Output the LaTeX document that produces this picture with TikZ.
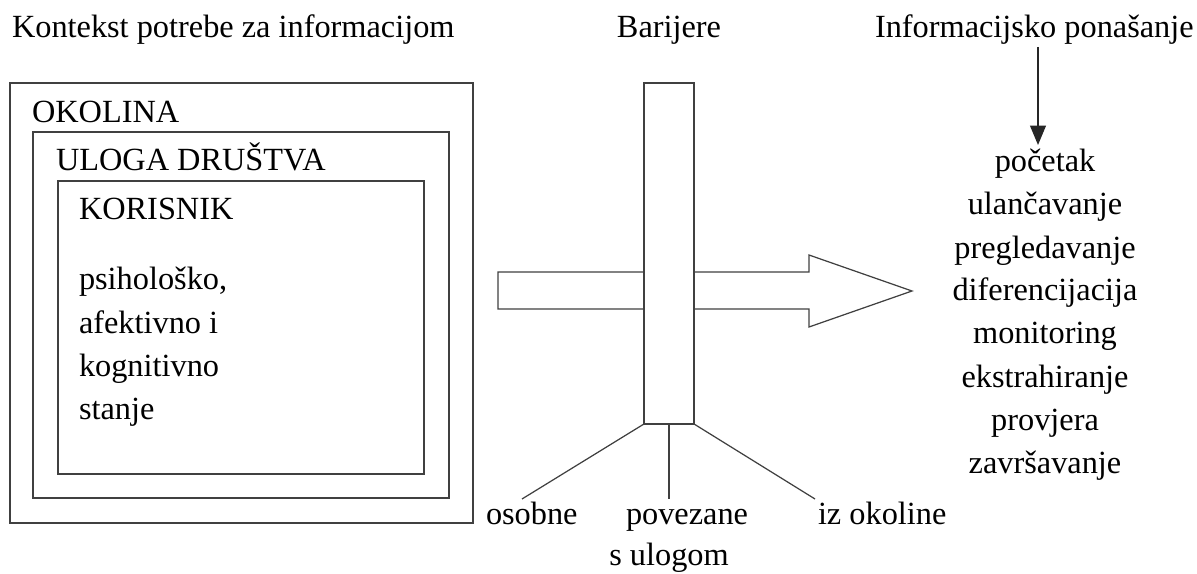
\documentclass[tikz,border=0pt]{standalone}
\usepackage{fontspec}
\setmainfont{Liberation Serif}
\usetikzlibrary{arrows.meta}
\begin{document}
\begin{tikzpicture}[x=0.02cm,y=-0.02cm,
  every node/.style={inner sep=0pt,outer sep=0pt},
  lbl/.style={font=\fontsize{18.4}{22}\selectfont,text=black},
  boxline/.style={draw=black!75,line width=0.7pt},
  link/.style={draw=black!75,line width=0.7pt}]
\useasboundingbox (0,0) rectangle (1197,574);
% titles
\node[lbl,anchor=base west] (t1) at (12,38) {Kontekst potrebe za informacijom};
\node[lbl,anchor=base] (t2) at (669,38) {Barijere};
\node[lbl,anchor=base west] (t3) at (875,38) {Informacijsko ponašanje};
% nested boxes
\node[boxline,minimum width=9.26cm,minimum height=8.8cm] (outer) at (241.5,303) {};
\node[boxline,minimum width=8.32cm,minimum height=7.32cm] (middle) at (241,315) {};
\node[boxline,minimum width=7.32cm,minimum height=5.86cm] (inner) at (241,327.5) {};
\node[lbl,anchor=base west] (okolina) at (32,123) {OKOLINA};
\node[lbl,anchor=base west] (uloga) at (56,171) {ULOGA DRUŠTVA};
\node[lbl,anchor=base west] (kor) at (79,220) {KORISNIK};
\node[lbl,anchor=base west] (k1) at (79,290) {psihološko,};
\node[lbl,anchor=base west] (k2) at (79,334) {afektivno i};
\node[lbl,anchor=base west] (k3) at (79,377) {kognitivno};
\node[lbl,anchor=base west] (k4) at (79,419) {stanje};
% big arrow
\draw[boxline,fill=white] (498,272) -- (809,272) -- (809,255) -- (912,291) -- (809,327) -- (809,309) -- (498,309) -- cycle;
% barrier bar
\node[boxline,fill=white,minimum width=1cm,minimum height=6.82cm] (bar) at (669,253.5) {};
% barrier legs
\coordinate (e1) at (522,499);
\coordinate (e2) at (669,499);
\coordinate (e3) at (815,499);
\draw[link] (bar.south west) -- (e1);
\draw[link] (bar.south) -- (e2);
\draw[link] (bar.south east) -- (e3);
\node[lbl,anchor=base west] (b1) at (486,524) {osobne};
\node[lbl,anchor=base west] (b2) at (626,524) {povezane};
\node[lbl,anchor=base] (b2b) at (669,565) {s ulogom};
\node[lbl,anchor=base west] (b3) at (818,524) {iz okoline};
% behaviour list
\foreach \i/\t/\y in {1/početak/172,2/ulančavanje/215,3/pregledavanje/258,4/diferencijacija/300,5/monitoring/343,6/ekstrahiranje/387,7/provjera/430,8/završavanje/473}
  \node[lbl,anchor=base] (l\i) at (1045,\y) {\t};
\coordinate (as) at (1038,47);
\coordinate (ae) at (1038,145);
\draw[draw=black!85,line width=0.8pt,-{Triangle[length=11pt,width=9pt]}] (as) -- (ae);
\end{tikzpicture}
\end{document}
